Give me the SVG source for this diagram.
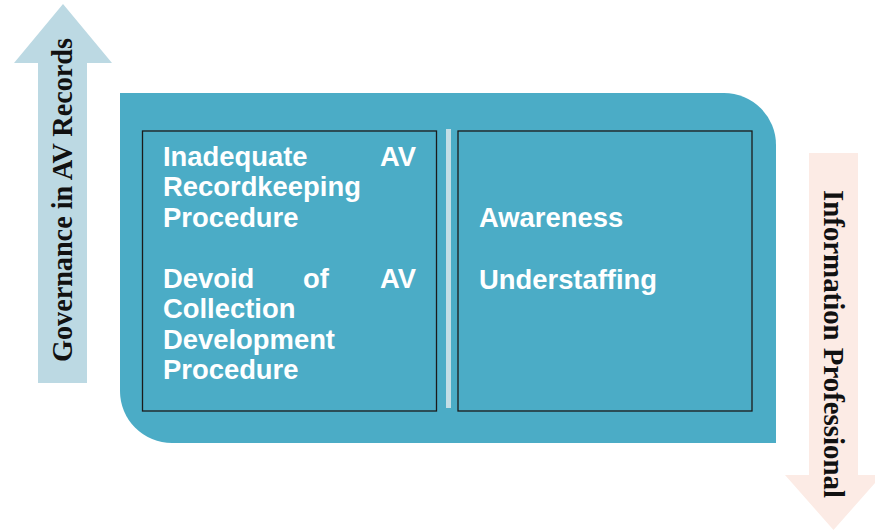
<svg xmlns="http://www.w3.org/2000/svg" width="875" height="531" viewBox="0 0 875 531">
  <style>
    .panel { fill: #4BACC6; }
    .cell { fill: none; stroke: #1b1b1b; stroke-width: 1.3; }
    .item { font-family: "Liberation Sans", Arial, sans-serif; font-weight: bold; font-size: 27.4px; fill: #ffffff; }
    .axis { font-family: "Liberation Serif", "Times New Roman", serif; font-weight: bold; font-size: 29px; fill: #111111; }
  </style>
  <rect width="875" height="531" fill="#ffffff"/>

  <!-- upward arrow: governance -->
  <g id="arrow-governance">
    <polygon points="63,4 112,63 87,63 87,383 38,383 38,63 14,63" fill="#BCD9E3"/>
    <text class="axis" transform="translate(72,200) rotate(-90)" text-anchor="middle" textLength="324" lengthAdjust="spacingAndGlyphs">Governance in AV Records</text>
  </g>

  <!-- downward arrow: information professional -->
  <g id="arrow-professional">
    <polygon points="809,153 858,153 858,475 882,475 833.5,530 785,475 809,475" fill="#FCEBE5"/>
    <text class="axis" transform="translate(824,344) rotate(90)" text-anchor="middle" textLength="308" lengthAdjust="spacingAndGlyphs">Information Professional</text>
  </g>

  <!-- main panel with two rounded corners -->
  <g id="panel">
    <path class="panel" d="M120,93 H724 A52,52 0 0 1 776,145 V443 H172 A52,52 0 0 1 120,391 Z"/>
    <rect x="446" y="129" width="5" height="279" fill="#C3DEE6"/>
  </g>

  <g id="governance-issues">
    <rect class="cell" x="142.5" y="131" width="294" height="280"/>
    <text class="item" x="163" y="166">Inadequate</text>
    <text class="item" x="416" y="166" text-anchor="end">AV</text>
    <text class="item" x="163" y="196.3">Recordkeeping</text>
    <text class="item" x="163" y="226.6">Procedure</text>
    <text class="item" x="163" y="288">Devoid</text>
    <text class="item" x="303" y="288">of</text>
    <text class="item" x="416" y="288" text-anchor="end">AV</text>
    <text class="item" x="163" y="318.3">Collection</text>
    <text class="item" x="163" y="348.6">Development</text>
    <text class="item" x="163" y="379">Procedure</text>
  </g>

  <g id="professional-issues">
    <rect class="cell" x="458" y="131" width="294" height="280"/>
    <text class="item" x="479" y="227">Awareness</text>
    <text class="item" x="479" y="289">Understaffing</text>
  </g>

  <g id="connectors"></g>
</svg>
